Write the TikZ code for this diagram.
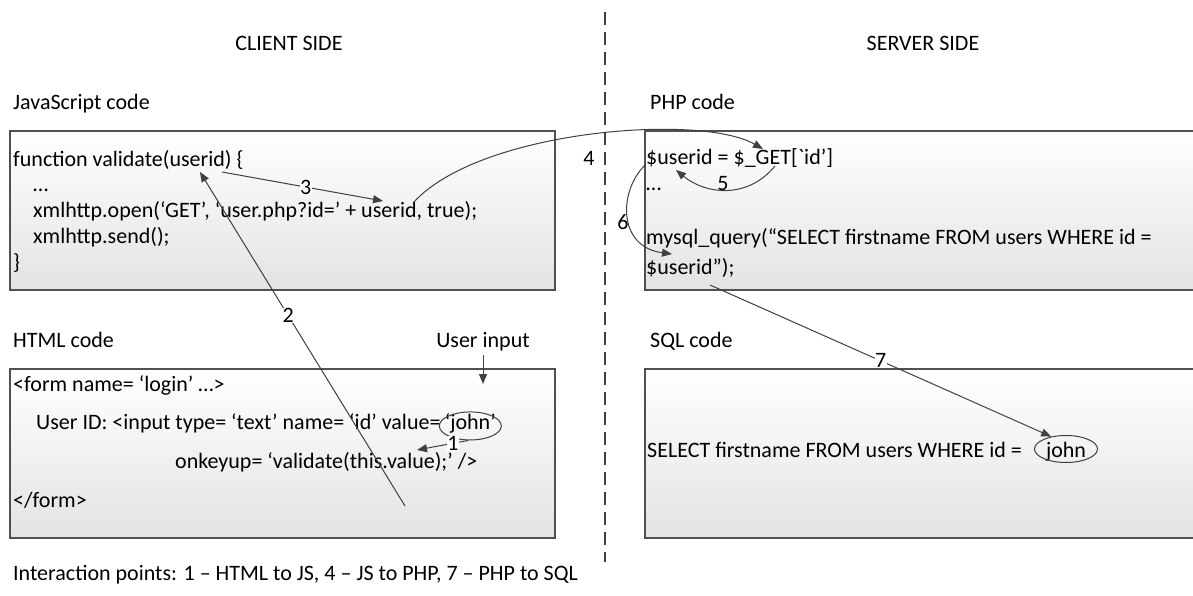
\documentclass[tikz,border=0pt]{standalone}
\usepackage{fontspec}
\setmainfont{Carlito}
\usetikzlibrary{shapes.geometric,arrows.meta}
\definecolor{linecol}{HTML}{404040}
\definecolor{boxline}{HTML}{505050}
\newcommand{\codefont}{\fontsize{22}{26}\selectfont}
\begin{document}
\begin{tikzpicture}[x=1pt,y=-1pt,
  txt/.style={anchor=base west,inner sep=0pt,font=\codefont,text=black},
  ctxt/.style={anchor=base,inner sep=0pt,font=\codefont,text=black},
  codebox/.style={draw=boxline,line width=1.3pt,top color=white,bottom color=black!11},
  link/.style={draw=linecol,line width=1pt,-{Triangle[length=10pt,width=8pt]}},
  num/.style={font=\codefont,fill=white,inner sep=0.5pt,text=black},
  oval/.style={ellipse,draw=linecol,line width=1pt,inner sep=0pt},
  divider/.style={draw=linecol,line width=1.1pt,dash pattern=on 13pt off 7pt}]

\useasboundingbox (0,0) rectangle (1193,596);

% client / server divider
\coordinate (divtop) at (605,12);
\coordinate (divbot) at (605,562);
\draw[divider] (divtop) -- (divbot);

\node[ctxt] (client) at (289,51) {CLIENT SIDE};
\node[ctxt] (server) at (923,51) {SERVER SIDE};

% code boxes
\draw[codebox] (10,131) rectangle (555,290);
\draw[codebox] (10,369) rectangle (555,538);
\draw[codebox] (645,131) rectangle (1210,290);
\draw[codebox] (645,369) rectangle (1210,538);

% JavaScript
\node[txt] (jstitle) at (13,110) {JavaScript code};
\node[txt] (js1) at (13,167) {function validate(userid) \{};
\node[txt] (js2) at (33,192) {…};
\node[txt] (js3) at (33,218) {xmlhttp.open(‘GET’, ‘user.php?id=’ + userid, true);};
\node[txt] (js4) at (33,243) {xmlhttp.send();};
\node[txt] (js5) at (13,269) {\}};

% HTML
\node[txt] (htmltitle) at (13,347) {HTML code};
\node[ctxt] (userin) at (483,347) {User input};
\node[txt] (h1) at (13,391) {<form name= ‘login’ …>};
\node[txt] (h2) at (36,429) {User ID: <input type= ‘text’ name= ‘id’ value=};
\node[txt] (jhtml) at ([xshift=4pt]h2.base east) {‘john’};
\node[oval,minimum width=62pt,minimum height=28pt] (jin) at ([yshift=-3pt]jhtml.center) {};
\node[txt] (h3) at (175,468) {onkeyup= ‘validate(this.value);’ />};
\node[txt] (h4) at (13,507) {</form>};

% PHP
\node[txt] (phptitle) at (650,110) {PHP code};
\node[txt] (p1) at (646,165) {\$userid = \$\_GET[\textasciigrave id’]};
\node[txt] (p2) at (646,190) {…};
\node[txt] (p3) at (646,244) {mysql\_query(“SELECT firstname FROM users WHERE id =};
\node[txt] (p4) at (646,274) {\$userid”);};

% SQL
\node[txt] (sqltitle) at (650,347) {SQL code};
\node[txt] (s1) at (647,457) {SELECT firstname FROM users WHERE id =};
\node[ctxt] (jsqltxt) at (1066,457) {john};
\node[oval,minimum width=63pt,minimum height=27pt] (jsql) at (1066,449) {};

% connector end points
\coordinate (uend) at (483,384);
\coordinate (a1e) at (417,450);
\coordinate (a2s) at (405,506);
\coordinate (a2e) at (200,172);
\coordinate (a3s) at (222,172);
\coordinate (a3e) at (383,201);
\coordinate (a4s) at (414,202);
\coordinate (a4e) at (763,149);
\coordinate (a5s) at (775,166);
\coordinate (a5e) at (676,170);
\coordinate (a6s) at (645,165);
\coordinate (a6e) at (672,254);
\coordinate (a7s) at (710,285);

% connectors
\draw[link] ([yshift=-4pt]userin.south) -- (uend);
\draw[link] (jin.262) -- node[num,pos=0.3] (n1) {1} (a1e);
\draw[link] (a2s) -- node[num,pos=0.57] (n2) {2} (a2e);
\draw[link] (a3s) -- node[num,pos=0.52] (n3) {3} (a3e);
\draw[link] (a4s) .. controls (480,130) and (700,113) .. (a4e);
\node[num,fill=none] (n4) at (589,158) {4};
\draw[link] (a5s) .. controls (747,200) and (705,194) .. (a5e);
\node[num,fill=none] (n5) at (723,184) {5};
\draw[link] (a6s) .. controls (618,192) and (618,247) .. (a6e);
\node[num,fill=none] (n6) at (623,222) {6};
\draw[link] (a7s) -- node[num,pos=0.5] (n7) {7} (jsql.140);

\node[txt] (legend) at (13,580) {Interaction points: 1 – HTML to JS, 4 – JS to PHP, 7 – PHP to SQL};
\end{tikzpicture}
\end{document}
